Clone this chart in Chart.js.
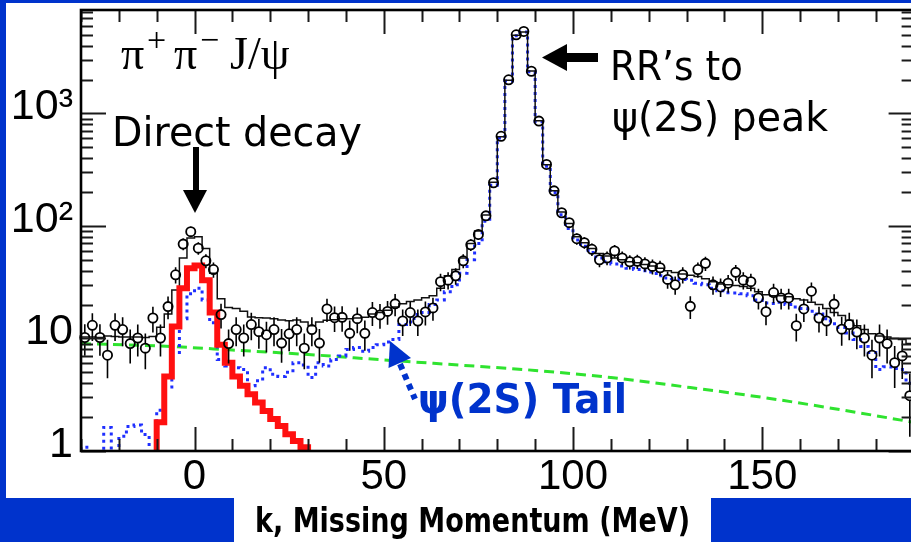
<!DOCTYPE html>
<html><head><meta charset="utf-8">
<script src="https://cdn.jsdelivr.net/npm/chart.js@4.4.1/dist/chart.umd.min.js"></script>
<style>
html,body{margin:0;padding:0;overflow:hidden;width:911px;height:542px;background:#0033cc;position:relative}
#w1{position:absolute;left:6px;top:3px;width:905px;height:495px;background:#fff}
#w2{position:absolute;left:234px;top:498px;width:477px;height:44px;background:#fff}
canvas{position:absolute;left:0;top:0}
</style></head><body>
<div id="w1"></div><div id="w2"></div>
<canvas id="c" width="920" height="542"></canvas>
<script>
// ---- data (k = missing momentum bin centres, MeV; 2 MeV bins) ----
const kCenters = [-29,-27,-25,-23,-21,-19,-17,-15,-13,-11,
  -9,-7,-5,-3,-1,1,3,5,7,9,
  11,13,15,17,19,21,23,25,27,29,
  31,33,35,37,39,41,43,45,47,49,
  51,53,55,57,59,61,63,65,67,69,
  71,73,75,77,79,81,83,85,87,89,
  91,93,95,97,99,101,103,105,107,109,
  111,113,115,117,119,121,123,125,127,129,
  131,133,135,137,139,141,143,145,147,149,
  151,153,155,157,159,161,163,165,167,169,
  171,173,175,177,179,181,183,185,187,189];
const dataCounts = [10.2,13.1,10.2,7.1,13.1,12.0,9.0,10.1,8.2,15.2,
  10.1,19.2,36.8,69,89,63.5,49,41,16.3,9.0,
  12.0,10.1,13.3,11.5,10.8,12.0,9.1,11.0,12.0,8.2,
  12.0,9.1,18.3,15.3,15.4,11.1,15.0,11.1,17.0,16.2,
  17.4,20.3,14.3,17.0,14.3,17.2,18.7,32,33,36,
  49,68,84,123,242,626,1990,5000,5350,2370,
  855,352,205,131,107,77,71,62,50,52,
  60,52,48,48.5,46,43.7,42.5,33.5,30,36.9,
  19.3,41,46.5,30,28.7,31,38.7,33,32,22.9,
  17.3,25.6,22.9,22.9,13.0,18.3,26.3,15.2,14.3,20.2,
  12.1,13.3,11.4,10.1,7.1,10.1,9.0,6.1,7.0,3.1];
const totalFit = [10.3,10.3,10.2,10.5,10.4,10.3,10.3,10.3,10.2,10.4,
  12.6,16.5,27,52,78,80,63,38,22.5,18.8,
  18.5,17.5,15.5,15.3,15.2,15.0,14.6,14.4,14.6,14.0,
  13.0,14.0,14.5,14.7,15.0,15.0,15.2,15.4,16.5,17.0,
  17.8,19.0,20.3,21.3,22,23,24,28,36,41,
  52,70,90,125,245,620,1970,4950,5300,2380,
  860,350,205,133,105,80,71,63,57,54,
  52,50,48,47,45.5,44,42,40,38.5,37.5,
  36.5,35.5,34,32,30.5,30,29.5,29,28,26,
  24.5,24,24,23.5,22.5,22,21,20,18.5,17,
  16,14.5,13,12,11,10.5,10.3,10,9.8,9];
const psiTail = [1.08,0,0,1.62,0,1.35,1.65,1.7,1.4,0,
  2.3,3.7,7.5,15,25,28,22,13.8,6.5,5.7,
  5.5,5.3,3.8,4.2,5.5,4.8,4.6,5.0,6.1,5.8,
  4.5,6.1,5.7,6.5,7.0,8.0,8.3,7.7,8.3,8.8,
  9.3,9.8,13.3,14,16.3,17,20,22,26,30,
  38,50,70,110,230,605,1940,4900,5280,2340,
  845,340,198,126,95,75,66,58,52,48,
  46,44,42,41,40,39,36,34.5,34,33.5,
  33,31,30,28,26.5,25.5,25.4,25,24,22,
  20.7,20.5,21,20,19,18.5,17.5,16.5,15,13.5,
  12.5,11.2,9.8,8.5,7.5,5.3,5.6,5.4,5.3,4];
const directK = [-9,-7,-5,-3,-1,1,3,5,7,9,11,13,15,17,19,21,23,25,27,29];
const directDecay = [1.8,4.6,12.8,28,42,44.5,33,17,8.8,6.1,4.6,3.8,3.2,2.7,2.27,1.92,1.67,1.41,1.23,1.08];
const bgK = [-30,-10,10,30,50,70,90,110,130,150,170,190];
const background = [9.0,8.6,7.9,7.2,6.45,5.8,5.2,4.5,3.7,3.0,2.35,1.8];
const xTickValues = [0,50,100,150];
const yTickValues = [1,10,100,1000];
const yTickLabels = ['1','10','10²','10³'];

const FLOOR = 0.5, BINW = 2;
// points at bin left edges; with stepped:'before' each value is held until the next edge
function steps(centers, vals){
  const pts=[{x:centers[0]-BINW/2,y:FLOOR}];
  centers.forEach((c,i)=>pts.push({x:c-BINW/2,y:vals[i]>0?vals[i]:FLOOR}));
  const last=centers[centers.length-1]+BINW/2;
  pts.push({x:last,y:vals[vals.length-1]>0?vals[vals.length-1]:FLOOR});
  pts.push({x:last,y:FLOOR});
  return pts;
}

const deco = {
  id:'deco',
  beforeDatasetDraw(chart,args){
    if(args.index!==0) return;
    const ctx=chart.ctx, xa=chart.scales.x, ya=chart.scales.y, r=4.6;
    ctx.save();
    ctx.strokeStyle='#000'; ctx.lineWidth=1.6;
    kCenters.forEach((k,i)=>{
      const v=dataCounts[i], e=Math.sqrt(v);
      const px=xa.getPixelForValue(k), py=ya.getPixelForValue(v);
      const t=ya.getPixelForValue(v+e), b=ya.getPixelForValue(Math.max(v-e,FLOOR));
      ctx.beginPath();
      if(py-r>t){ctx.moveTo(px,py-r);ctx.lineTo(px,t);}
      if(b>py+r){ctx.moveTo(px,py+r);ctx.lineTo(px,b);}
      ctx.stroke();
    });
    ctx.restore();
  },
  afterDraw(chart){
    const ctx=chart.ctx, xa=chart.scales.x, ya=chart.scales.y, ca=chart.chartArea;
    ctx.save();
    // ticks (inward)
    ctx.strokeStyle='#1a1a1a'; ctx.lineWidth=2;
    ctx.beginPath();
    for(let k=xa.min;k<=xa.max;k+=10){
      const px=Math.round(xa.getPixelForValue(k))+0.5;
      const L = xTickValues.includes(k)?24:12;
      ctx.moveTo(px,ca.bottom);ctx.lineTo(px,ca.bottom-L);
      ctx.moveTo(px,ca.top);ctx.lineTo(px,ca.top+L);
    }
    yTickValues.forEach(d=>{
      for(let m=1;m<=9;m++){
        const v=d*m; if(v>ya.max) break;
        const py=Math.round(ya.getPixelForValue(v))+0.5;
        const L=m===1?25:12;
        ctx.moveTo(ca.left,py);ctx.lineTo(ca.left+L,py);
        ctx.moveTo(ca.right,py);ctx.lineTo(ca.right-L,py);
      }
    });
    ctx.stroke();
    // frame
    ctx.strokeStyle='#000'; ctx.lineWidth=2.6;
    ctx.strokeRect(ca.left,ca.top,ca.right-ca.left,ca.bottom-ca.top);

    // pi+ pi- J/psi label
    ctx.fillStyle='#000'; ctx.textBaseline='alphabetic'; ctx.textAlign='left';
    const by=69;
    const big='46px "Liberation Serif", "DejaVu Serif", serif';
    const sup='34px "Liberation Serif", "DejaVu Serif", serif';
    ctx.font=big; ctx.fillText('π',121,by);
    ctx.font=sup; ctx.fillText('+',147,by-18);
    ctx.font=big; ctx.fillText('π',174,by);
    ctx.font=sup; ctx.fillText('−',200,by-18);
    ctx.font=big; ctx.fillText('J/ψ',230,by);

    // Direct decay
    const hand='"DejaVu Sans", "Noto Sans", sans-serif';
    ctx.font='40px '+hand;
    ctx.fillText('Direct decay',112,146,250);
    // arrow down
    ctx.fillRect(193,147,6,44);
    ctx.beginPath();ctx.moveTo(183,190);ctx.lineTo(207,190);ctx.lineTo(195,213);ctx.closePath();ctx.fill();

    // RR's to psi(2S) peak
    ctx.fillText('RR\u2019s to',610,80,133);
    ctx.fillText('ψ(2S) peak',612,131,216);
    ctx.fillRect(564,53,34,9);
    ctx.beginPath();ctx.moveTo(542,57.5);ctx.lineTo(567,44);ctx.lineTo(567,71);ctx.closePath();ctx.fill();

    // psi(2S) Tail
    ctx.fillStyle='#0033cc';
    ctx.font='bold 40px '+hand;
    ctx.fillText('ψ(2S) Tail',418,413,209);
    ctx.beginPath();ctx.moveTo(390,341);ctx.lineTo(411,358);ctx.lineTo(388.5,368);ctx.closePath();ctx.fill();
    ctx.strokeStyle='#0033cc'; ctx.lineWidth=6; ctx.setLineDash([6,5]); ctx.lineCap='butt';
    ctx.beginPath();ctx.moveTo(400,364);ctx.lineTo(415,399);ctx.stroke();
    ctx.setLineDash([]);

    // axis title
    ctx.fillStyle='#000';
    ctx.font='bold 33px '+hand;
    ctx.fillText('k, Missing Momentum (MeV)',255,532,435);
    ctx.restore();
  }
};

new Chart(document.getElementById('c'),{
  type:'line',
  data:{datasets:[
    {label:'data',data:kCenters.map((k,i)=>({x:k,y:dataCounts[i]})),showLine:false,
     pointStyle:'circle',pointRadius:4.6,pointBorderWidth:1.8,pointBorderColor:'#000',
     pointBackgroundColor:'rgba(0,0,0,0)',clip:false},
    {label:'direct',data:steps(directK,directDecay),stepped:'before',borderColor:'#ff1010',
     borderWidth:6,pointRadius:0,fill:false,clip:0,borderJoinStyle:'miter'},
    {label:'total',data:steps(kCenters,totalFit),stepped:'before',borderColor:'#111',
     borderWidth:1.5,pointRadius:0,fill:false,clip:0},
    {label:'tail',data:steps(kCenters,psiTail),stepped:'before',borderColor:'#1f2fff',
     borderWidth:3,borderDash:[3,4],pointRadius:0,fill:false,clip:0},
    {label:'bg',data:bgK.map((k,i)=>({x:k,y:background[i]})),borderColor:'#2fe32f',
     borderWidth:3,borderDash:[10,6],pointRadius:0,fill:false,cubicInterpolationMode:'monotone',clip:0}
  ]},
  options:{
    responsive:false,animation:false,devicePixelRatio:1,events:[],
    layout:{padding:{top:10,right:4,left:0,bottom:0}},
    plugins:{legend:{display:false},tooltip:{enabled:false}},
    scales:{
      x:{type:'linear',min:-30,max:190,
        grid:{display:false,drawTicks:false},border:{display:false},
        afterBuildTicks:s=>{s.ticks=xTickValues.map(v=>({value:v}));},
        afterFit:s=>{s.height=91;s.paddingLeft=0;s.paddingRight=0;},
        ticks:{autoSkip:false,maxRotation:0,padding:1,color:'#000',
          font:{family:'"Liberation Sans", Arial, sans-serif',size:42},
          callback:v=>String(v)}},
      y:{type:'logarithmic',min:1,max:8300,
        grid:{display:false,drawTicks:false},border:{display:false},
        afterBuildTicks:s=>{s.ticks=yTickValues.map(v=>({value:v}));},
        afterFit:s=>{s.width=81;s.paddingTop=0;s.paddingBottom=0;},
        ticks:{autoSkip:false,padding:8,labelOffset:-6,color:'#000',
          font:{family:'"Liberation Sans", Arial, sans-serif',size:43},
          callback:v=>yTickLabels[yTickValues.indexOf(v)]}}
    }
  },
  plugins:[deco]
});
</script>
</body></html>
